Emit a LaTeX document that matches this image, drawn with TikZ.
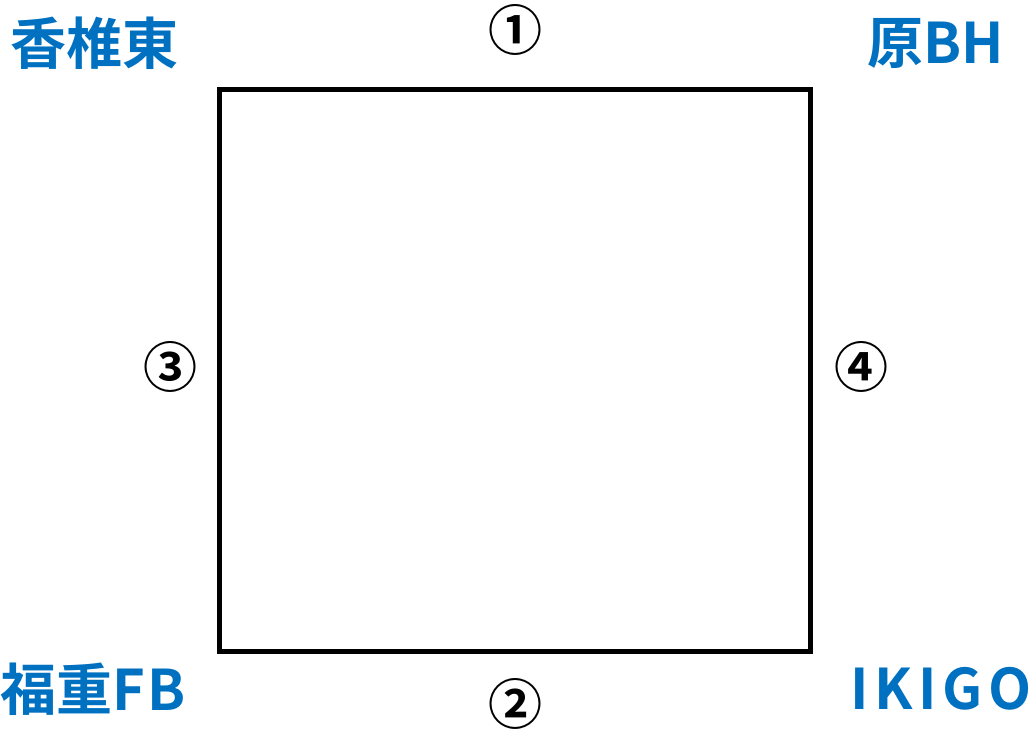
\documentclass[tikz,border=0pt]{standalone}
\usepackage{fontspec}
\newfontfamily\jpfont{Noto Sans CJK JP}[BoldFont={* Bold}]
\definecolor{lblue}{HTML}{0070C0}
\begin{document}
\begin{tikzpicture}[x=1pt,y=-1pt,
  place/.style={font=\jpfont\bfseries\fontsize{56}{56}\selectfont, text=lblue, inner sep=0pt},
  num/.style={font=\jpfont\bfseries\fontsize{54}{54}\selectfont, text=black, inner sep=0pt}]
\useasboundingbox (0,0) rectangle (1034,729);
\draw[line width=5pt] (219.5,89.5) rectangle (810,651);
\node[place] (a) at (94,43) {香椎東};
\node[place] (b) at (936,43) {原BH};
\node[place] (c) at (93,689) {福重\addfontfeature{LetterSpace=3}FB};
\node[place] (d) at (941,689) {\addfontfeature{LetterSpace=10}IKIGO};
\node[num] (n1) at (515,30) {①};
\node[num] (n2) at (515,704) {②};
\node[num] (n3) at (170,367) {③};
\node[num] (n4) at (861,367) {④};
\end{tikzpicture}
\end{document}
